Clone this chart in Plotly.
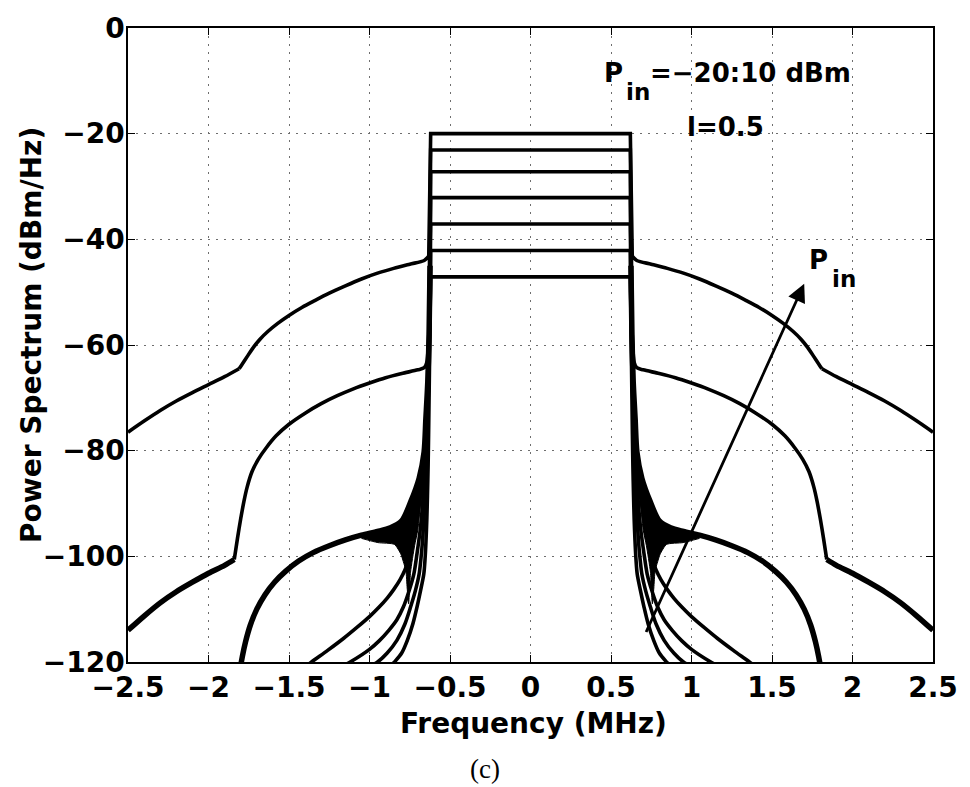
import plotly.graph_objects as go

# ---------------- data (left half of each symmetric spectrum) ----------
X_TICKS = [-2.5, -2, -1.5, -1, -0.5, 0, 0.5, 1, 1.5, 2, 2.5]
X_TICK_TEXT = ["\u22122.5", "\u22122", "\u22121.5", "\u22121", "\u22120.5", "0", "0.5", "1", "1.5", "2", "2.5"]
Y_TICKS = [-120, -100, -80, -60, -40, -20, 0]
Y_TICK_TEXT = ["\u2212120", "\u2212100", "\u221280", "\u221260", "\u221240", "\u221220", "0"]

# Pin = 10 dBm  (last point = in-band corner)
P10_x = [-2.5, -2.4, -2.3, -2.2, -2.1, -2.0, -1.9, -1.81, -1.79, -1.76, -1.72, -1.68, -1.63,
         -1.57, -1.5, -1.42, -1.34, -1.25, -1.15, -1.05, -0.95, -0.85, -0.75, -0.66, -0.632, -0.62]
P10_y = [-76.5, -74.4, -72.4, -70.6, -69.0, -67.5, -66.0, -64.5, -63.6, -62.2, -60.4, -58.9, -57.4,
         -55.9, -54.4, -52.9, -51.6, -50.2, -48.8, -47.5, -46.4, -45.5, -44.7, -44.0, -43.2, -20.0]
P10_kink = 7

# Pin = 5 dBm
P5_x = [-2.5, -2.4, -2.3, -2.2, -2.1, -2.0, -1.9, -1.84, -1.82, -1.80, -1.78, -1.76, -1.73,
        -1.69, -1.64, -1.58, -1.5, -1.4, -1.3, -1.2, -1.1, -1.0, -0.9, -0.8, -0.7, -0.66,
        -0.645, -0.632, -0.62]
P5_y = [-114.0, -111.3, -108.8, -106.7, -104.9, -103.2, -101.7, -100.6, -96.6, -92.9, -89.6, -86.9, -84.0,
        -81.6, -79.4, -77.2, -75.0, -72.9, -71.1, -69.6, -68.3, -67.2, -66.2, -65.4, -64.7, -64.3,
        -63.4, -58.0, -23.1]
P5_kink = 7

# Pin = 0 dBm
P0_x = [-1.81, -1.79, -1.77, -1.74, -1.70, -1.65, -1.59, -1.52, -1.44, -1.35, -1.25, -1.15,
        -1.05, -0.95, -0.87, -0.80, -0.743, -0.692, -0.661, -0.65, -0.638, -0.63, -0.624, -0.62]
P0_y = [-122.5, -119.0, -116.2, -113.0, -110.0, -107.3, -104.9, -102.8, -100.9, -99.3, -98.0, -96.9,
        -96.0, -95.3, -94.6, -93.3, -89.6, -85.25, -80.25, -74.0, -67.0, -58.0, -45.0, -27.2]

# ripple region of the Pin = 0 dBm curve (outline)
W_x = [-1.05, -0.948, -0.825, -0.743, -0.692, -0.661, -0.65, -0.64, -0.645, -0.655, -0.668,
       -0.68, -0.70, -0.72, -0.745, -0.757, -0.766, -0.774, -0.79, -0.805, -0.845, -0.948, -1.05]
W_y = [-96.0, -95.25, -94.0, -89.6, -85.25, -80.25, -74.0, -66.0, -72.0, -79.0, -85.0,
       -89.0, -95.0, -98.0, -103.0, -109.0, -106.0, -102.75, -101.0, -99.6, -97.75, -97.4, -96.6]

# Pin = -5 dBm
M5_x = [-1.42, -1.36, -1.26, -1.16, -1.08, -1.0, -0.94, -0.89, -0.85, -0.81, -0.78, -0.755,
        -0.735, -0.715, -0.70, -0.683, -0.668, -0.656, -0.648, -0.641, -0.636, -0.63, -0.625, -0.62]
M5_y = [-121.4, -120.0, -117.8, -115.5, -113.5, -111.4, -109.6, -107.9, -106.3, -104.4, -102.6, -100.4,
        -98.0, -95.0, -92.0, -88.5, -84.5, -80.0, -75.5, -70.5, -65.0, -57.0, -45.0, -32.1]

# Pin = -10 dBm
M10_x = [-1.18, -1.12, -1.0, -0.94, -0.88, -0.83, -0.79, -0.755, -0.725, -0.705, -0.685, -0.67,
         -0.66, -0.651, -0.643, -0.637, -0.633, -0.628, -0.623, -0.62]
M10_y = [-121.0, -120.0, -117.6, -116.0, -114.0, -112.0, -109.6, -106.6, -103.4, -99.5, -95.0, -90.0,
         -85.0, -80.0, -75.0, -70.0, -65.0, -57.0, -47.0, -37.1]

# Pin = -15 dBm
M15_x = [-0.99, -0.95, -0.89, -0.83, -0.78, -0.745, -0.715, -0.692, -0.68, -0.67, -0.661,
         -0.654, -0.648, -0.643, -0.638, -0.633, -0.63, -0.626, -0.622, -0.62]
M15_y = [-120.7, -120.0, -118.3, -115.9, -112.8, -109.6, -106.5, -103.4, -100.3, -96.8, -92.5,
         -88.0, -83.0, -78.0, -73.0, -68.0, -63.0, -57.0, -50.0, -42.1]

# Pin = -20 dBm
M20_x = [-0.87, -0.845, -0.80, -0.765, -0.73, -0.705, -0.683, -0.663, -0.655, -0.649, -0.644,
         -0.64, -0.636, -0.633, -0.63, -0.627, -0.624, -0.62]
M20_y = [-120.8, -120.0, -118.3, -115.9, -112.7, -109.6, -106.5, -103.4, -100.5, -97.0, -93.0,
         -88.5, -83.0, -77.0, -70.0, -63.0, -55.0, -47.1]

ARROW_TAIL = (0.714, -114.6)
ARROW_HEAD = (1.70, -48.4)

FONT = "DejaVu Sans"
LW = 3.6


def neg(xs):
    return [-v for v in xs]


fig = go.Figure()


def add_line(xs, ys, w, shape="linear"):
    fig.add_trace(go.Scatter(x=xs, y=ys, mode="lines",
                             line=dict(color="black", width=w, shape=shape, smoothing=0.8),
                             hoverinfo="skip", showlegend=False))


def add_curve(xs, ys, w_out=LW, kink=None, w_far=None):
    """Out-of-band skirts (smoothed, both sides) + band edges and in-band level (straight)."""
    n = len(xs)
    pieces = [(0, n - 2)] if kink is None else [(0, kink), (kink, n - 2)]
    for i, (a, b) in enumerate(pieces):
        w = w_far if (kink is not None and i == 0 and w_far) else w_out
        sx, sy = xs[a:b + 1], ys[a:b + 1]
        add_line(sx, sy, w, "spline")
        add_line(neg(sx), sy, w, "spline")
    ex = xs[n - 2:] + neg(list(reversed(xs[n - 2:])))
    ey = ys[n - 2:] + list(reversed(ys[n - 2:]))
    add_line(ex, ey, LW)


# ripple regions (both sides)
for sgn in (1, -1):
    fig.add_trace(go.Scatter(x=[sgn * v for v in W_x], y=W_y, mode="lines", fill="toself",
                             fillcolor="black", line=dict(color="black", width=1, shape="spline",
                                                          smoothing=0.6),
                             hoverinfo="skip", showlegend=False))

add_curve(M20_x, M20_y)
add_curve(M15_x, M15_y)
add_curve(M10_x, M10_y)
add_curve(M5_x, M5_y)
add_curve(P0_x, P0_y, w_out=5.5)
add_curve(P5_x, P5_y, kink=P5_kink, w_far=5.5)
add_curve(P10_x, P10_y, kink=P10_kink)

axis_common = dict(
    ticks="inside", ticklen=7, tickwidth=1, tickcolor="black",
    showline=True, linecolor="black", linewidth=1.5, mirror="allticks",
    showgrid=True, gridcolor="#6e6e6e", gridwidth=1, griddash="2px,6px",
    zeroline=False, tickfont=dict(family=FONT, size=28, color="black", weight="bold"),
)

fig.update_layout(
    width=970, height=787,
    margin=dict(l=128, r=30, t=22, b=125),
    paper_bgcolor="white", plot_bgcolor="white",
    showlegend=False,
    font=dict(family=FONT, size=28, color="black", weight="bold"),
    xaxis=dict(range=[-2.5, 2.5], tickvals=X_TICKS, ticktext=X_TICK_TEXT, **axis_common),
    yaxis=dict(range=[-120, 0], tickvals=Y_TICKS, ticktext=Y_TICK_TEXT, ticklabelstandoff=-4,
               **axis_common),
)

BOLD = dict(family=FONT, color="black", weight="bold")


def txt(text, x, y, size, **kw):
    d = dict(text=text, xref="x", yref="y", x=x, y=y, xanchor="left", yanchor="middle",
             showarrow=False, font=dict(size=size, **BOLD))
    d.update(kw)
    return d


annots = [
    # axis titles
    dict(text="Frequency (MHz)", xref="paper", yref="paper", x=0.504, y=-0.097,
         xanchor="center", yanchor="middle", showarrow=False, font=dict(size=28, **BOLD)),
    dict(text="Power Spectrum (dBm/Hz)", xref="paper", yref="paper", x=-0.1207, y=0.5156,
         xanchor="center", yanchor="middle", textangle=-90, showarrow=False,
         font=dict(size=28, **BOLD)),
    # caption
    dict(text="(c)", xref="paper", yref="paper", x=0.4433, y=-0.169,
         xanchor="center", yanchor="middle", showarrow=False,
         font=dict(family="Liberation Serif", size=27, color="black", weight="normal")),
    # in-plot texts: P_in=-20:10 dBm  (subscript set lower, as in the original)
    txt("P", 0.444, -8.6, 26),
    txt("in", 0.582, -12.2, 23),
    txt("=\u221220:10 dBm", 0.727, -8.6, 26),
    txt("l=0.5", 0.96, -18.8, 26),
    # P_in label at the arrow
    txt("P", 1.72, -43.9, 26),
    txt("in", 1.862, -47.5, 23),
    # arrow
    dict(text="", xref="x", yref="y", axref="x", ayref="y",
         x=ARROW_HEAD[0], y=ARROW_HEAD[1], ax=ARROW_TAIL[0], ay=ARROW_TAIL[1],
         showarrow=True, arrowhead=2, arrowsize=1.3, arrowwidth=2.8, arrowcolor="black"),
]
fig.update_layout(annotations=annots)

fig.write_html("out.html")
